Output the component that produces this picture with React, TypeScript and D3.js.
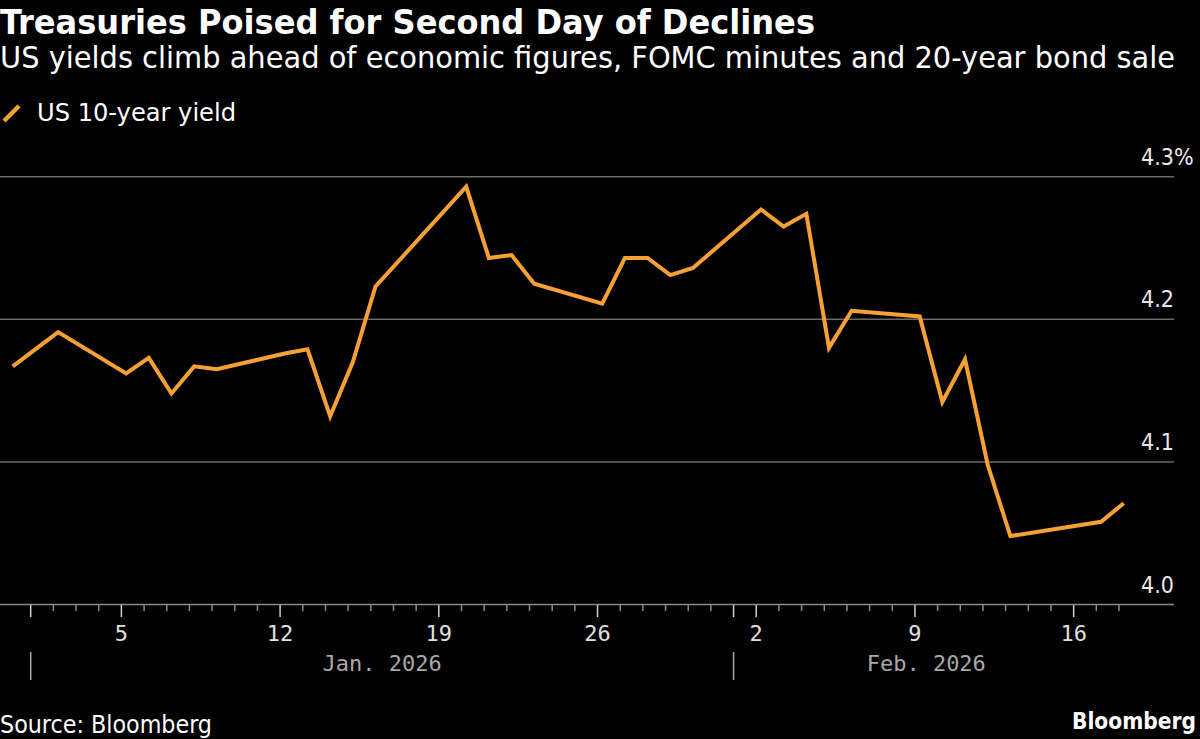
import React, { useEffect, useRef } from 'react';
import * as d3 from 'd3';

// US 10-year Treasury yield, daily close
const dates = [
  '2025-12-31', '2026-01-02', '2026-01-05', '2026-01-06', '2026-01-07', '2026-01-08',
  '2026-01-09', '2026-01-12', '2026-01-13', '2026-01-14', '2026-01-15', '2026-01-16',
  '2026-01-20', '2026-01-21', '2026-01-22', '2026-01-23', '2026-01-26', '2026-01-27',
  '2026-01-28', '2026-01-29', '2026-01-30', '2026-02-02', '2026-02-03', '2026-02-04',
  '2026-02-05', '2026-02-06', '2026-02-09', '2026-02-10', '2026-02-11', '2026-02-12',
  '2026-02-13', '2026-02-17', '2026-02-18',
];
const yields = [
  4.167, 4.191, 4.162, 4.173, 4.148, 4.167,
  4.165, 4.176, 4.179, 4.132, 4.170, 4.223,
  4.293, 4.243, 4.245, 4.225, 4.211, 4.243,
  4.243, 4.231, 4.236, 4.277, 4.265, 4.274,
  4.180, 4.206, 4.202, 4.142, 4.172, 4.098,
  4.048, 4.058, 4.071,
];
const yTicks = [4.0, 4.1, 4.2, 4.3];
const axisStart = '2026-01-01';
const axisEnd = '2026-02-18';

const title = 'Treasuries Poised for Second Day of Declines';
const subtitle = 'US yields climb ahead of economic figures, FOMC minutes and 20-year bond sale';
const legendLabel = 'US 10-year yield';
const source = 'Source: Bloomberg';

const W = 1200;
const H = 739;
const ORANGE = '#f7a034';
const SANS = '"DejaVu Sans Condensed", "DejaVu Sans", sans-serif';
const MONO = '"DejaVu Sans Mono", monospace';

export default function App() {
  const ref = useRef<SVGSVGElement | null>(null);

  useEffect(() => {
    document.body.style.margin = '0';
    document.body.style.background = '#000';
    if (!ref.current) return;
    const svg = d3.select(ref.current);
    svg.selectAll('*').remove();

    const parse = d3.timeParse('%Y-%m-%d');
    // closes are plotted a few hours into the day
    const closeTime = (s: string) => d3.timeHour.offset(parse(s)!, 5);
    const data = dates.map((d, i) => ({ date: closeTime(d), value: yields[i] }));

    const t0 = parse(axisStart)!;
    const t1 = parse(axisEnd)!;
    const x = d3.scaleTime().domain([t0, t1]).range([30.7, 1119]);
    const y = d3.scaleLinear().domain([4.0, 4.3]).range([604.5, 176.7]);
    const gridRight = 1174;

    svg.append('rect').attr('width', W).attr('height', H).attr('fill', '#000');

    // header
    svg.append('text')
      .attr('x', 0).attr('y', 34)
      .attr('fill', '#fff')
      .style('font-family', SANS).style('font-weight', 700).style('font-size', '34px')
      .attr('textLength', 815).attr('lengthAdjust', 'spacingAndGlyphs')
      .text(title);
    svg.append('text')
      .attr('x', 0).attr('y', 68)
      .attr('fill', '#fff')
      .style('font-family', SANS).style('font-size', '29.5px')
      .attr('textLength', 1175).attr('lengthAdjust', 'spacingAndGlyphs')
      .text(subtitle);

    // legend
    svg.append('line')
      .attr('x1', 4).attr('y1', 121).attr('x2', 19).attr('y2', 106)
      .attr('stroke', ORANGE).attr('stroke-width', 4.5);
    svg.append('text')
      .attr('x', 37).attr('y', 121)
      .attr('fill', '#fff')
      .style('font-family', SANS).style('font-size', '24px')
      .attr('textLength', 199).attr('lengthAdjust', 'spacingAndGlyphs')
      .text(legendLabel);

    // horizontal grid + y labels
    svg.append('g')
      .selectAll('line')
      .data(yTicks)
      .join('line')
      .attr('x1', 0).attr('x2', gridRight)
      .attr('y1', d => y(d)).attr('y2', d => y(d))
      .attr('stroke', d => (d === 4.0 ? '#8a8a8a' : '#6a6a6a'))
      .attr('stroke-width', 1.5);

    svg.append('g')
      .selectAll('text')
      .data(yTicks)
      .join('text')
      .attr('x', gridRight).attr('y', d => y(d) - 12)
      .attr('text-anchor', 'end')
      .attr('fill', '#e8e8e8')
      .style('font-family', SANS).style('font-size', '23px')
      .text(d => d.toFixed(1));
    svg.append('text')
      .attr('x', gridRight).attr('y', y(4.3) - 12)
      .attr('fill', '#e8e8e8')
      .style('font-family', SANS).style('font-size', '23px')
      .text('%');

    // x axis ticks: daily minor, weekly + month start major
    const days = d3.timeDay.range(t0, d3.timeDay.offset(t1, 1));
    const isMajor = (d: Date) => d.getDay() === 1 || d.getDate() === 1;
    svg.append('g')
      .selectAll('line')
      .data(days)
      .join('line')
      .attr('x1', d => x(d)).attr('x2', d => x(d))
      .attr('y1', 605).attr('y2', d => (isMajor(d) ? 617 : 611))
      .attr('stroke', d => (isMajor(d) ? '#d0d0d0' : '#8a8a8a'))
      .attr('stroke-width', 1.5);

    const mondays = days.filter(d => d.getDay() === 1);
    svg.append('g')
      .selectAll('text')
      .data(mondays)
      .join('text')
      .attr('x', d => x(d)).attr('y', 641)
      .attr('text-anchor', 'middle')
      .attr('fill', '#e0e0e0')
      .style('font-family', MONO).style('font-size', '22px')
      .text(d => d3.timeFormat('%-d')(d));

    // month separators and labels
    const months = d3.timeMonth.range(t0, d3.timeDay.offset(t1, 1));
    const mg = svg.append('g');
    months.forEach(m => {
      const end = d3.min([d3.timeMonth.offset(m, 1), t1])!;
      mg.append('line')
        .attr('x1', x(m)).attr('x2', x(m))
        .attr('y1', 652).attr('y2', 680)
        .attr('stroke', '#a8a8a8').attr('stroke-width', 1.5);
      mg.append('text')
        .attr('x', (x(m) + x(end)) / 2).attr('y', 671)
        .attr('text-anchor', 'middle')
        .attr('fill', '#a8a8a8')
        .style('font-family', MONO).style('font-size', '22px')
        .text(d3.timeFormat('%b. %Y')(m));
    });

    // yield line
    const line = d3.line<{ date: Date; value: number }>()
      .x(d => x(d.date))
      .y(d => y(d.value));
    svg.append('path')
      .datum(data)
      .attr('d', line)
      .attr('fill', 'none')
      .attr('stroke', ORANGE)
      .attr('stroke-width', 4)
      .attr('stroke-linejoin', 'miter')
      .attr('stroke-linecap', 'butt');

    // footer
    svg.append('text')
      .attr('x', 0).attr('y', 733)
      .attr('fill', '#fff')
      .style('font-family', SANS).style('font-size', '24px')
      .attr('textLength', 212).attr('lengthAdjust', 'spacingAndGlyphs')
      .text(source);
    svg.append('text')
      .attr('x', 1196).attr('y', 729)
      .attr('text-anchor', 'end')
      .attr('fill', '#fff')
      .style('font-family', SANS).style('font-weight', 700).style('font-size', '22.5px')
      .text('Bloomberg');
  }, []);

  return (
    <svg
      ref={ref}
      width={W}
      height={H}
      style={{ position: 'absolute', left: 0, top: 0, display: 'block' }}
    />
  );
}
